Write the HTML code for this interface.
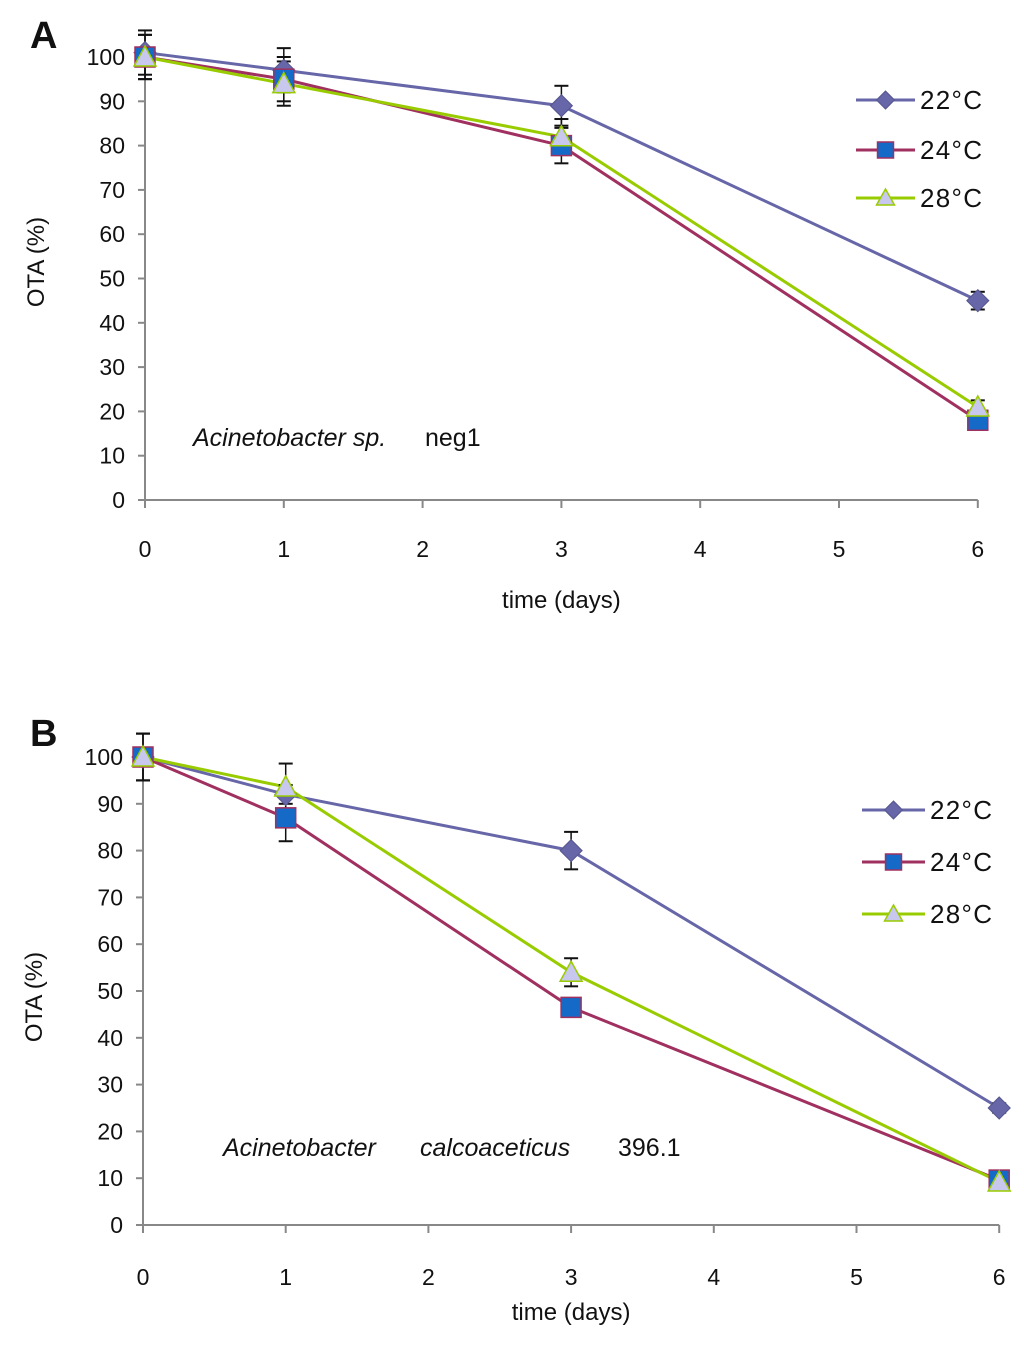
<!DOCTYPE html>
<html><head><meta charset="utf-8"><style>
body{margin:0;background:#fff}
svg text{font-family:"Liberation Sans",sans-serif;fill:#111}
</style></head><body>
<svg id="s" width="1024" height="1344" xmlns="http://www.w3.org/2000/svg"></svg>
<script>
const days=[0,1,3,6];
const xTicks=[0,1,2,3,4,5,6];
const yTicks=[0,10,20,30,40,50,60,70,80,90,100];
const seriesNames=["22°C","24°C","28°C"];
const aT22=[101,97,89,45], aT24=[100,95,80,18], aT28=[100,94,82,21];
const aE22=[5,5,4.5,2], aE24=[5,5,4,1], aE28=[5,5,4,1.5];
const bT22=[100,92,80,25], bT24=[100,87,46.5,9.6], bT28=[100,93.6,54,9.2];
const bE22=[5,2,4,1], bE24=[5,5,2,1], bE28=[5,5,3,1];
const NS="http://www.w3.org/2000/svg";
const svg=document.getElementById('s');
function mk(tag,at,parent){const e=document.createElementNS(NS,tag);for(const k in at)e.setAttribute(k,at[k]);(parent||svg).appendChild(e);return e;}
const colors=["#6666a8","#a0305f","#99cc00"];
function marker(g,type,x,y,s){
  let e;
  if(type===0){e=mk('polygon',{points:`${x},${y-s} ${x+s},${y} ${x},${y+s} ${x-s},${y}`,fill:'#6666a8',stroke:'#55558f','stroke-width':1},g);}
  else if(type===1){e=mk('rect',{x:x-s+1,y:y-s+1,width:2*s-2,height:2*s-2,fill:'#1569c7',stroke:'#a0305f','stroke-width':1.5},g);}
  else {e=mk('polygon',{points:`${x},${y-s} ${x+s},${y+s-2} ${x-s},${y+s-2}`,fill:'#c8c8ee',stroke:'#99cc00','stroke-width':1.5},g);}
  return e;
}
function panel(P){
  const g=mk('g',{});
  
  
  const X=d=>P.x0+d*P.dx, Y=v=>P.y0-v*P.dy;
  mk('line',{x1:P.x0,y1:Y(0),x2:P.x0,y2:Y(100)-6,stroke:'#888','stroke-width':2},g);
  mk('line',{x1:P.x0,y1:Y(0),x2:X(6),y2:Y(0),stroke:'#888','stroke-width':2},g);
  yTicks.forEach(v=>{mk('line',{x1:P.x0-7,y1:Y(v),x2:P.x0,y2:Y(v),stroke:'#888','stroke-width':2},g);
    const t=mk('text',{x:P.x0-20,y:Y(v)+8,'text-anchor':'end','font-size':23},g);t.textContent=v;
    });
  xTicks.forEach(v=>{mk('line',{x1:X(v),y1:Y(0),x2:X(v),y2:Y(0)+8,stroke:'#888','stroke-width':2},g);
    const t=mk('text',{x:X(v),y:P.xl,'text-anchor':'middle','font-size':23},g);t.textContent=v;
    });
  let t=mk('text',{x:X(3),y:P.xt,'text-anchor':'middle','font-size':24},g);t.textContent='time (days)';
  
  t=mk('text',{x:0,y:0,'text-anchor':'middle','font-size':24,transform:`translate(${P.yx},${P.yy}) rotate(-90)`},g);t.textContent='OTA (%)';
  
  t=mk('text',{x:30,y:P.ly,'font-size':38,'font-weight':'bold'},g);t.textContent=P.label;
  
  t=mk('text',{x:P.ax,y:P.ay,'font-size':25},g);t.innerHTML=P.ann;
  
  P.series.forEach((vals,i)=>{
    const pts=days.map((d,j)=>X(d)+','+Y(vals[j])).join(' ');
    const l=mk('polyline',{points:pts,fill:'none',stroke:colors[i],'stroke-width':3},g);
    
  });
  P.series.forEach((vals,i)=>{
    days.forEach((d,j)=>{const e=P.errs[i][j],x=X(d);
      mk('line',{x1:x,y1:Y(vals[j]-e),x2:x,y2:Y(vals[j]+e),stroke:'#111','stroke-width':1.5},g);
      mk('line',{x1:x-7,y1:Y(vals[j]-e),x2:x+7,y2:Y(vals[j]-e),stroke:'#111','stroke-width':2},g);
      mk('line',{x1:x-7,y1:Y(vals[j]+e),x2:x+7,y2:Y(vals[j]+e),stroke:'#111','stroke-width':2},g);});
  });
  P.series.forEach((vals,i)=>{days.forEach((d,j)=>{const m=marker(g,i,X(d),Y(vals[j]),11);
    });});
  seriesNames.forEach((n,i)=>{const y=P.legY[i];
    const lg=mk('g',{},g);
    mk('line',{x1:P.legX,y1:y,x2:P.legX+P.legW,y2:y,stroke:colors[i],'stroke-width':3},lg);
    marker(lg,i,P.legX+P.legW/2,y,9);
    const tt=mk('text',{x:P.legX+P.legW+5,y:y+9,'font-size':26,textLength:62},lg);tt.textContent=n;});
}
panel({id:'a',label:'A',ly:48,x0:145,dx:138.8,y0:500,dy:4.43,xl:557,xt:608,yx:44,yy:262,
  ax:193,ay:446,ann:'<tspan font-style="italic">Acinetobacter sp.</tspan><tspan x="425">neg1</tspan>',
  series:[aT22,aT24,aT28],errs:[aE22,aE24,aE28],legX:856,legW:59,legY:[100,150,198]});
panel({id:'b',label:'B',ly:746,x0:143,dx:142.7,y0:1225,dy:4.68,xl:1285,xt:1320,yx:42,yy:997,
  ax:223,ay:1156,ann:'<tspan font-style="italic">Acinetobacter</tspan><tspan x="420" font-style="italic">calcoaceticus</tspan><tspan x="618">396.1</tspan>',
  series:[bT22,bT24,bT28],errs:[bE22,bE24,bE28],legX:862,legW:63,legY:[810,862,914]});
</script>
</body></html>
